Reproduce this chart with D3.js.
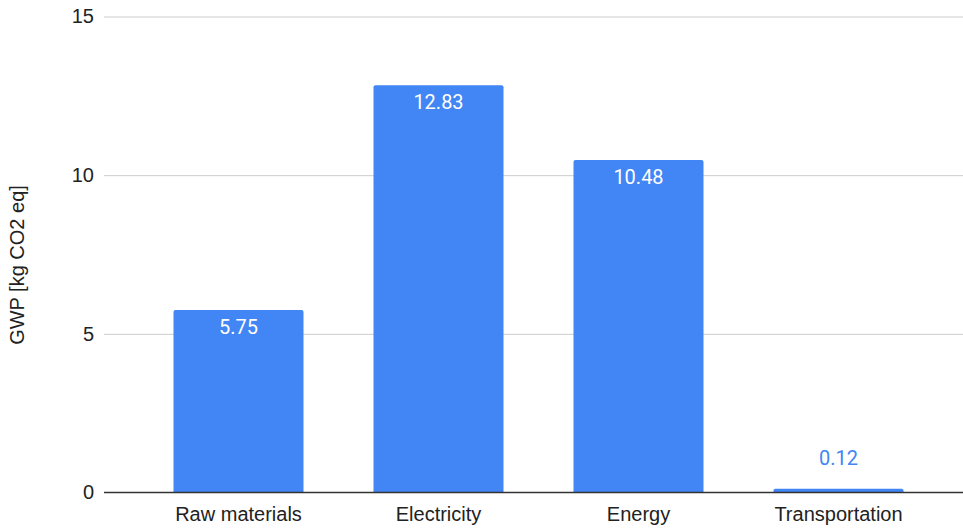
<!DOCTYPE html>
<html>
<head>
<meta charset="utf-8">
<script src="https://cdn.jsdelivr.net/npm/d3@7"></script>
<style>
  html, body { margin: 0; padding: 0; background: #fff; }
  svg { display: block; }
</style>
</head>
<body>
<svg id="chart" width="963" height="529"></svg>
<script>
const categories = ["Raw materials", "Electricity", "Energy", "Transportation"];
const gwpValues = [5.75, 12.83, 10.48, 0.12];
const yTicks = [0, 5, 10, 15];
const yTitle = "GWP [kg CO2 eq]";

const svg = d3.select("#chart");
const W = 963, H = 529;
const gridLeft = 104, gridRight = 963;
const blue = "#4285F4";
const axisFont = "'Liberation Sans', Arial, sans-serif";
const labelFont = "Roboto, 'Liberation Sans', sans-serif";

const y = d3.scaleLinear().domain([0, 15]).range([492.5, 16.5]);
const x = d3.scaleBand()
  .domain(categories)
  .range([138.5, 938.5])
  .paddingInner(0.35)
  .paddingOuter(0.175);

// Horizontal gridlines and y tick labels
const yAxis = d3.axisLeft(y)
  .tickValues(yTicks)
  .tickSize(-(gridRight - gridLeft))
  .tickPadding(10)
  .tickFormat(d3.format("d"));

const gy = svg.append("g")
  .attr("transform", `translate(${gridLeft},0)`)
  .call(yAxis);
gy.select(".domain").remove();
gy.selectAll(".tick line")
  .attr("stroke", "#cccccc")
  .attr("stroke-width", 1)
  .filter(d => d === 0).remove();
gy.selectAll(".tick text")
  .attr("fill", "#222")
  .attr("font-family", axisFont)
  .attr("font-size", 20);

// Bars with slightly rounded top corners
const r = 2;
function barPath(d, i) {
  const x0 = x(categories[i]), w = x.bandwidth();
  const yt = y(d), yb = y(0);
  const rr = Math.min(r, (yb - yt) / 2);
  return `M${x0},${yb} V${yt + rr} Q${x0},${yt} ${x0 + rr},${yt} H${x0 + w - rr} Q${x0 + w},${yt} ${x0 + w},${yt + rr} V${yb} Z`;
}
svg.append("g").selectAll("path")
  .data(gwpValues)
  .join("path")
  .attr("d", barPath)
  .attr("fill", blue);

// Baseline at zero
svg.append("line")
  .attr("x1", gridLeft).attr("x2", gridRight)
  .attr("y1", y(0)).attr("y2", y(0))
  .attr("stroke", "#333")
  .attr("stroke-width", 1.5);

// Category axis labels
const xAxis = d3.axisBottom(x).tickSize(0).tickPadding(0);
const gx = svg.append("g")
  .attr("transform", `translate(0,${y(0)})`)
  .call(xAxis);
gx.select(".domain").remove();
gx.selectAll(".tick text")
  .attr("dy", null)
  .attr("y", 28)
  .attr("fill", "#222")
  .attr("font-family", axisFont)
  .attr("font-size", 20);

// Value labels: inside the bar when it is tall enough, above otherwise
svg.append("g").selectAll("text")
  .data(gwpValues)
  .join("text")
  .attr("x", (d, i) => x(categories[i]) + x.bandwidth() / 2)
  .attr("y", d => (y(0) - y(d) > 40) ? y(d) + 24 : y(d) - 24)
  .attr("text-anchor", "middle")
  .attr("font-family", labelFont)
  .attr("font-size", 20)
  .attr("fill", d => (y(0) - y(d) > 40) ? "#ffffff" : blue)
  .text(d => d.toFixed(2));

// Y axis title
svg.append("text")
  .attr("transform", `translate(24,${265}) rotate(-90)`)
  .attr("text-anchor", "middle")
  .attr("font-family", axisFont)
  .attr("font-size", 20)
  .attr("fill", "#222")
  .text(yTitle);
</script>
</body>
</html>
